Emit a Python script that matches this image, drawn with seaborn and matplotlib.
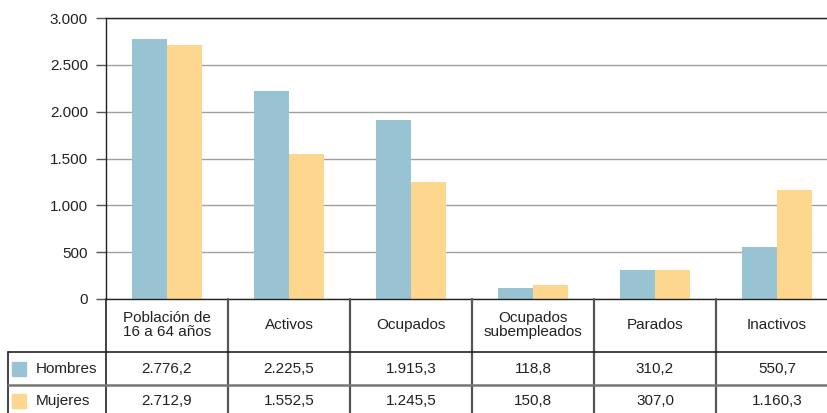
import pandas as pd
import seaborn as sns
import matplotlib.pyplot as plt
from matplotlib import transforms
from matplotlib.lines import Line2D
from matplotlib.patches import Rectangle

# data
categorias = ["Población de\n16 a 64 años", "Activos", "Ocupados",
              "Ocupados\nsubempleados", "Parados", "Inactivos"]
hombres = [2776.2, 2225.5, 1915.3, 118.8, 310.2, 550.7]
mujeres = [2712.9, 1552.5, 1245.5, 150.8, 307.0, 1160.3]
series = ["Hombres", "Mujeres"]
yticks = [0, 500, 1000, 1500, 2000, 2500, 3000]

azul = "#97c3d3"
amarillo = "#fdd78e"

df = pd.DataFrame({
    "cat": categorias * 2,
    "valor": hombres + mujeres,
    "sexo": [series[0]] * len(categorias) + [series[1]] * len(categorias),
})

def es_num(v, dec=1):
    s = f"{v:,.{dec}f}"
    return s.replace(",", "X").replace(".", ",").replace("X", ".")

sns.set_style("white")
plt.rcParams["font.family"] = ["Liberation Sans", "DejaVu Sans"]

W, H = 827, 413
fig = plt.figure(figsize=(W / 100, H / 100), dpi=100)
ax = fig.add_axes([106 / W, 1 - 299 / H, 732 / W, 281 / H])

sns.barplot(data=df, x="cat", y="valor", hue="sexo", palette=[azul, amarillo],
            width=0.57, gap=0, saturation=1, legend=False, linewidth=0, ax=ax)

ax.set_xlim(-0.5, len(categorias) - 0.5)
ax.set_ylim(0, 3000)
ax.set_yticks(yticks)
ax.set_yticklabels([es_num(v, 0) for v in yticks], fontsize=11, color="#222222")
ax.set_xticks([])
ax.set_xlabel("")
ax.set_ylabel("")
ax.tick_params(axis="y", length=7, width=1, color="#555555", pad=6, left=True)
ax.yaxis.grid(True, color="#a0a0a0", linewidth=1)
ax.set_axisbelow(True)
for s in ["left", "bottom", "top"]:
    ax.spines[s].set_visible(True)
    ax.spines[s].set_color("#222222")
    ax.spines[s].set_linewidth(1)
ax.spines["right"].set_visible(False)

# table below the chart
tr = transforms.blended_transform_factory(ax.transData, fig.transFigure)
fy = lambda px: 1 - px / H
fx = lambda px: px / W

fila_h = 369
fila_m = 401
cab = 325

# vertical lines between categories
for i in range(1, len(categorias)):
    fig.add_artist(Line2D([i - 0.5, i - 0.5], [fy(299), fy(H)], transform=tr,
                          color="#555555", linewidth=1.6))
fig.add_artist(Line2D([fx(106), fx(106)], [fy(299), fy(H)], color="#222222", linewidth=1.2))
fig.add_artist(Line2D([fx(8), fx(8)], [fy(352), fy(H)], color="#222222", linewidth=1.2))
fig.add_artist(Line2D([fx(8), 1], [fy(352), fy(352)], color="#222222", linewidth=1.2))
fig.add_artist(Line2D([fx(8), 1], [fy(385), fy(385)], color="#777777", linewidth=1.8))

for i, c in enumerate(categorias):
    fig.text(i, fy(cab), c, transform=tr, ha="center", va="center",
             fontsize=11, color="#222222", linespacing=0.95)
    fig.text(i, fy(fila_h), es_num(hombres[i]), transform=tr, ha="center",
             va="center", fontsize=11, color="#222222")
    fig.text(i, fy(fila_m), es_num(mujeres[i]), transform=tr, ha="center",
             va="center", fontsize=11, color="#222222")

for nombre, color, yc in [(series[0], azul, fila_h), (series[1], amarillo, fila_m)]:
    fig.add_artist(Rectangle((fx(12), fy(yc + 7)), 14 / W, 14 / H,
                             transform=fig.transFigure, color=color))
    fig.text(fx(36), fy(yc), nombre, ha="left", va="center", fontsize=11,
             color="#222222")

fig.savefig("out.png", dpi=100)
